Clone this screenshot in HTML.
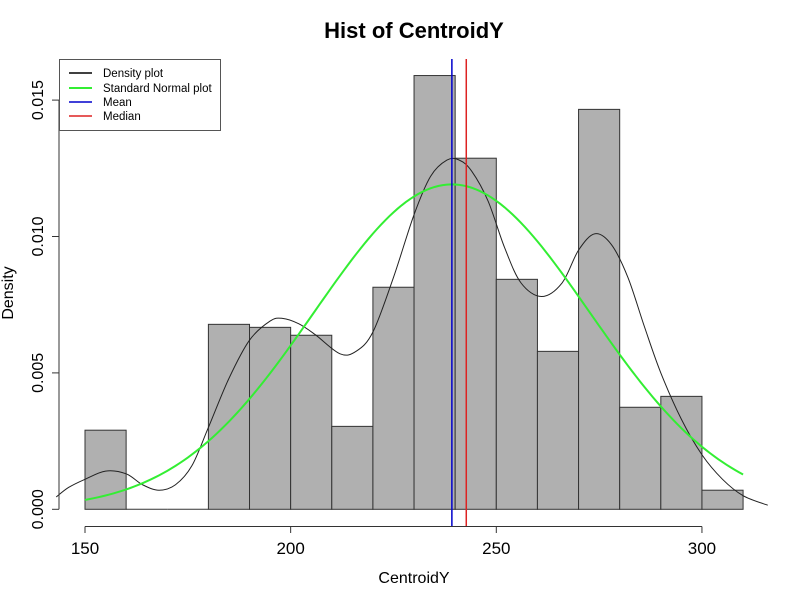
<!DOCTYPE html>
<html><head><meta charset="utf-8"><style>
body{margin:0;background:#fff;}
svg{display:block;font-family:"Liberation Sans",Arial,sans-serif;}
</style></head><body>
<svg id="chart" width="800" height="600" viewBox="0 0 800 600">
<text x="414" y="38" text-anchor="middle" font-size="22" font-weight="bold">Hist of CentroidY</text>
<g id="bars"></g>
<g id="curves"></g>
<g id="xaxis"></g>
<g id="yaxis"></g>
<text x="414" y="583" text-anchor="middle" font-size="16">CentroidY</text>
<text transform="translate(13,293) rotate(-90)" text-anchor="middle" font-size="16">Density</text>
<g>
<rect x="59.5" y="59.5" width="161" height="71" fill="#fff" stroke="#555"/>
<g><line x1="69" x2="92" y1="73" y2="73" stroke="#000" stroke-width="1.5"/><text x="103" y="77" font-size="11.5">Density plot</text></g>
<g><line x1="69" x2="92" y1="88" y2="88" stroke="#33ee33" stroke-width="2"/><text x="103" y="92" font-size="11.5">Standard Normal plot</text></g>
<g><line x1="69" x2="92" y1="102" y2="102" stroke="#0000cc" stroke-width="1.5"/><text x="103" y="106" font-size="11.5">Mean</text></g>
<g><line x1="69" x2="92" y1="116" y2="116" stroke="#dd2222" stroke-width="1.5"/><text x="103" y="120" font-size="11.5">Median</text></g>
</g>
</svg>
<script>
const binStarts=[150,160,170,180,190,200,210,220,230,240,250,260,270,280,290,300];
const binDensity=[0.0029,0,0,0.00678,0.00667,0.00638,0.00304,0.00814,0.0159,0.01287,0.00843,0.00579,0.01466,0.00374,0.00414,0.0007];
const densX=[143,146,150,155,160,164,168,172,176,180,185,190,195,198,202,206,212,216,220,225,230,234,238,241,244,248,252,256,261,266,270,274,278,282,286,290,295,300,305,310,316];
const densY=[0.00045,0.0008,0.0011,0.0014,0.0013,0.0009,0.0007,0.0009,0.0016,0.003,0.0048,0.0062,0.0069,0.0070,0.0068,0.0064,0.0057,0.0058,0.0065,0.0085,0.0108,0.0122,0.0128,0.0128,0.0124,0.0113,0.0096,0.0083,0.0078,0.0083,0.0095,0.0101,0.0097,0.0085,0.0067,0.0050,0.0033,0.0020,0.0011,0.0005,0.00015];
const normMean=239.2, normSd=33.5;
const meanVal=239.2, medianVal=242.7;
const xTicks=[150,200,250,300];
const yTicks=[0,0.005,0.010,0.015];
const yTickLabels=["0.000","0.005","0.010","0.015"];

const X=v=>85+(v-150)*4.113;
const Y=v=>509.3-v*27280;
const NS='http://www.w3.org/2000/svg';
function mk(tag,attrs,parent){const e=document.createElementNS(NS,tag);for(const k in attrs)e.setAttribute(k,attrs[k]);parent.appendChild(e);return e;}
const bars=document.getElementById('bars');
binStarts.forEach((s,i)=>{
  let r;
  if(binDensity[i]>0){
    r=mk('rect',{x:X(s),y:Y(binDensity[i]),width:X(s+10)-X(s),height:Y(0)-Y(binDensity[i]),fill:'#b0b0b0',stroke:'#333','stroke-width':1},bars);
  } else {
    r=mk('line',{x1:X(s),x2:X(s+10),y1:Y(0),y2:Y(0),stroke:'#333','stroke-width':1},bars);
  }
  
  
});
const curves=document.getElementById('curves');
let pts=densX.map((x,i)=>[X(x),Y(densY[i])]);
let d='M'+pts[0][0]+','+pts[0][1];
for(let i=0;i<pts.length-1;i++){const p0=pts[Math.max(0,i-1)],p1=pts[i],p2=pts[i+1],p3=pts[Math.min(pts.length-1,i+2)];
d+=' C'+(p1[0]+(p2[0]-p0[0])/6)+','+(p1[1]+(p2[1]-p0[1])/6)+' '+(p2[0]-(p3[0]-p1[0])/6)+','+(p2[1]-(p3[1]-p1[1])/6)+' '+p2[0]+','+p2[1];}
const dp=mk('path',{d:d,fill:'none',stroke:'#222','stroke-width':1},curves);


let nd='';
for(let v=150;v<=310;v+=1){const y=Math.exp(-0.5*((v-normMean)/normSd)**2)/(normSd*Math.sqrt(2*Math.PI));nd+=(v===150?'M':'L')+X(v)+','+Y(y);}
const np=mk('path',{d:nd,fill:'none',stroke:'#33ee33','stroke-width':2},curves);


const ml=mk('line',{x1:X(meanVal),x2:X(meanVal),y1:59,y2:527,stroke:'#0000cc','stroke-width':1.5},curves);


const mdl=mk('line',{x1:X(medianVal),x2:X(medianVal),y1:59,y2:527,stroke:'#dd2222','stroke-width':1.5},curves);


const xa=document.getElementById('xaxis');
mk('line',{x1:X(xTicks[0]),x2:X(xTicks[xTicks.length-1]),y1:526.5,y2:526.5,stroke:'#333'},xa);
xTicks.forEach(t=>{mk('line',{x1:X(t),x2:X(t),y1:526.5,y2:533,stroke:'#333'},xa);
const tx=mk('text',{x:X(t),y:554,'text-anchor':'middle','font-size':17},xa);tx.textContent=t;

});
const ya=document.getElementById('yaxis');
mk('line',{x1:59,x2:59,y1:Y(yTicks[0]),y2:Y(yTicks[yTicks.length-1]),stroke:'#333'},ya);
yTicks.forEach((t,i)=>{mk('line',{x1:52,x2:59,y1:Y(t),y2:Y(t),stroke:'#333'},ya);
const tx=mk('text',{transform:'translate(43,'+Y(t)+') rotate(-90)','text-anchor':'middle','font-size':16},ya);tx.textContent=yTickLabels[i];

});
</script>
</body></html>
